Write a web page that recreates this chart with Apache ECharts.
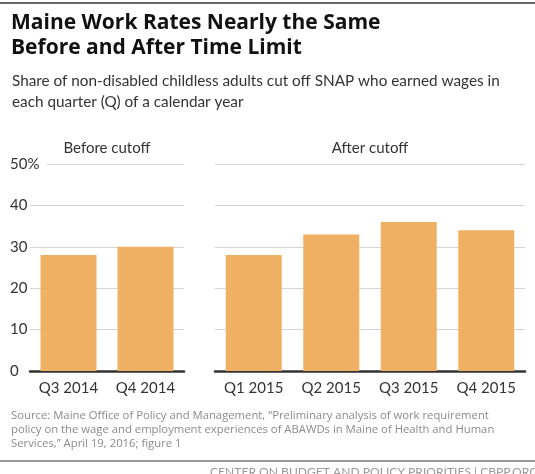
<!DOCTYPE html>
<html>
<head>
<meta charset="utf-8">
<script src="https://cdn.jsdelivr.net/npm/echarts@6/dist/echarts.min.js"></script>
<style>
  html, body { margin: 0; padding: 0; background: #fff; }
  #main { width: 535px; height: 474px; }
</style>
</head>
<body>
<div id="main"></div>
<script>
// values (percent of people with wages)
const beforeCats = ['Q3 2014', 'Q4 2014']
const beforeVals = [28, 30]
const afterCats = ['Q1 2015', 'Q2 2015', 'Q3 2015', 'Q4 2015']
const afterVals = [28, 33, 36, 34]
const yTicks = [0, 10, 20, 30, 40, 50]

const font = 'Lato, "Open Sans", sans-serif'
const wideFont = '"Open Sans", Lato, sans-serif'
const barColor = '#efb064'

const chart = echarts.init(document.getElementById('main'))

// shared axis bits
const catAxis = (idx, data) => ({
  type: 'category',
  gridIndex: idx,
  data: data,
  axisTick: { show: false },
  axisLine: { lineStyle: { color: '#333', width: 2.5 } },
  axisLabel: { interval: 0, color: '#333', fontSize: 15, fontFamily: font, margin: 10 }
})
const valAxis = (idx, showLabels) => ({
  type: 'value',
  gridIndex: idx,
  min: 0,
  max: yTicks[yTicks.length - 1],
  interval: 10,
  axisLine: { show: false },
  axisTick: { show: false },
  splitLine: { lineStyle: { color: '#d4d4d4', width: 1 } },
  axisLabel: {
    show: showLabels,
    align: 'left',
    margin: 20,
    color: '#333',
    fontSize: 15,
    fontFamily: font,
    // the top label covers the start of its gridline
    formatter: v => v === 50 ? '{top|50%}' : String(v),
    rich: {
      top: { backgroundColor: '#fff', padding: [2, 7, 2, 0], fontSize: 15, color: '#333', fontFamily: font }
    }
  }
})

const option = {
  backgroundColor: '#fff',
  animation: false,
  grid: [
    { left: 30, width: 154, top: 164, height: 207 },
    { left: 215, width: 310, top: 164, height: 207 }
  ],
  xAxis: [catAxis(0, beforeCats), catAxis(1, afterCats)],
  yAxis: [valAxis(0, true), valAxis(1, false)],
  series: [
    { type: 'bar', xAxisIndex: 0, yAxisIndex: 0, data: beforeVals, barWidth: 56, itemStyle: { color: barColor } },
    { type: 'bar', xAxisIndex: 1, yAxisIndex: 1, data: afterVals, barWidth: 56, itemStyle: { color: barColor } }
  ],
  graphic: [
    { type: 'rect', shape: { x: 0, y: 2, width: 535, height: 2 }, style: { fill: '#666' } },
    {
      type: 'text', left: 11, top: 11,
      style: {
        text: 'Maine Work Rates Nearly the Same\nBefore and After Time Limit',
        fill: '#111', font: 'bold 21px ' + wideFont, lineHeight: 25
      }
    },
    {
      type: 'text', left: 12, top: 71,
      style: {
        text: 'Share of non-disabled childless adults cut off SNAP who earned wages in\neach quarter (Q) of a calendar year',
        fill: '#333', font: '15.3px ' + font, lineHeight: 21
      }
    },
    {
      type: 'text', x: 107, y: 148,
      style: { text: 'Before cutoff', fill: '#333', font: '15px ' + font, align: 'center', verticalAlign: 'middle' }
    },
    {
      type: 'text', x: 370, y: 148,
      style: { text: 'After cutoff', fill: '#333', font: '15px ' + font, align: 'center', verticalAlign: 'middle' }
    },
    {
      type: 'text', left: 11, top: 409,
      style: {
        text: 'Source: Maine Office of Policy and Management, \u201cPreliminary analysis of work requirement\npolicy on the wage and employment experiences of ABAWDs in Maine of Health and Human\nServices,\u201d April 19, 2016; figure 1',
        fill: '#8a8a8a', font: '11.3px ' + wideFont, lineHeight: 14
      }
    },
    { type: 'rect', shape: { x: 0, y: 460, width: 535, height: 2 }, style: { fill: '#999' } },
    {
      type: 'text', x: 538, y: 466,
      style: { text: 'CENTER ON BUDGET AND POLICY PRIORITIES | CBPP.ORG', fill: '#999', font: '12.1px ' + font, align: 'right' }
    }
  ]
}

chart.setOption(option)
window.onresize = chart.resize
</script>
</body>
</html>
